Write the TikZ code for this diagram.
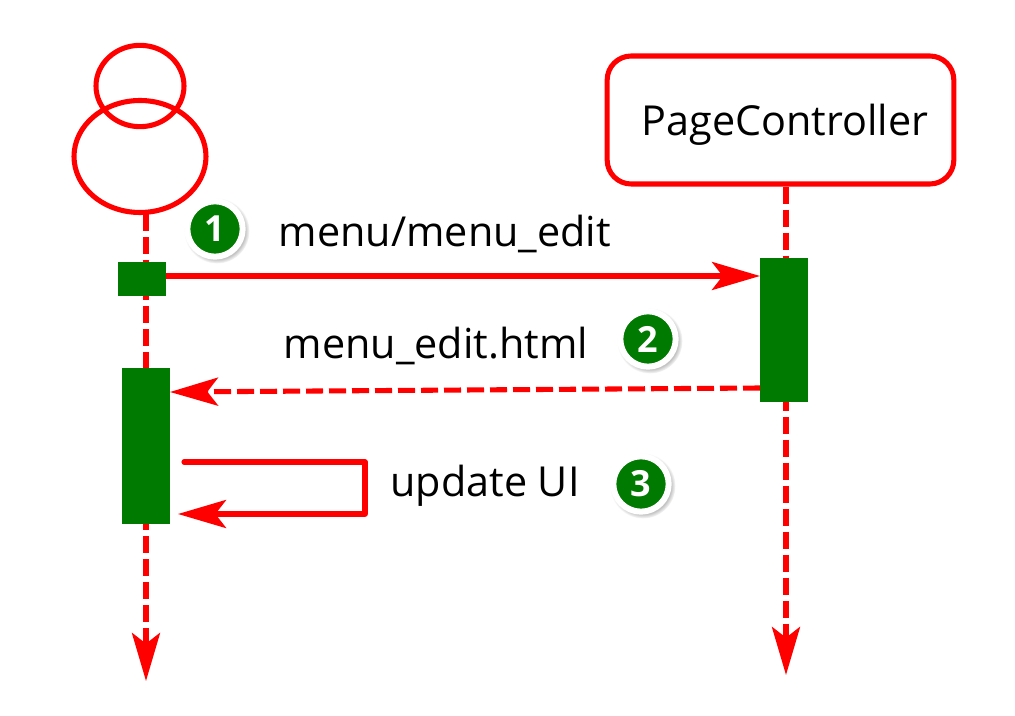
\documentclass[tikz,border=0pt]{standalone}
\usepackage{fontspec}
\setmainfont{Open Sans}
\usetikzlibrary{arrows.meta,shapes.geometric,shadows}
\definecolor{lifered}{RGB}{255,0,0}
\definecolor{actgreen}{RGB}{0,122,0}
\begin{document}
\begin{tikzpicture}[x=0.75pt, y=-0.75pt, line width=3.8pt,
  head/.style = {draw=lifered, ellipse, inner sep=0pt},
  box/.style = {draw=lifered, rectangle, rounded corners=18pt, minimum width=260pt, minimum height=96pt, inner sep=0pt},
  act/.style = {fill=actgreen, rectangle, inner sep=0pt, outer sep=0pt, minimum width=36pt},
  lifeline/.style = {draw=lifered, dash pattern=on 12.75pt off 4.5pt, -{Stealth[length=36pt, width=21pt, inset=8pt]}},
  msg/.style = {draw=lifered, line join=round, -{Stealth[length=36pt, width=21pt, inset=8pt]}},
  reply/.style = {msg, dash pattern=on 12.75pt off 4.5pt},
  badge/.style = {circle, fill=actgreen, draw=white, line width=4.5pt, minimum size=41.5pt, inner sep=0pt, text=white, font=\fontsize{27}{27}\selectfont\bfseries, circular drop shadow={shadow xshift=1.2pt, shadow yshift=-1.2pt, shadow scale=1.18, opacity=.5}},
  label/.style = {text=black, inner sep=0pt, font=\fontsize{31}{36}\selectfont}]
\useasboundingbox (0,0) rectangle (1015,716);
\node[head, minimum width=66pt, minimum height=61pt] (actorhead) at (140,86) {};
\node[head, minimum width=99pt, minimum height=84pt] (actorbody) at (140,156.5) {};
\node[box] (page) at (780.5,120) {};
\node[label] (pagetext) at (785,125) {PageController};
\coordinate (actortop) at (146,214);
\coordinate (actorend) at (146,681);
\coordinate (pageend) at (786,675);
\draw[lifeline] (actortop) -- (actorend);
\draw[lifeline] (page.south -| pageend) -- (pageend);
\node[act, minimum height=25.5pt] (start) at (142,279) {};
\node[act, minimum height=108pt] (server) at (784,330) {};
\node[act, minimum height=117pt] (update) at (146,446) {};
\coordinate (replyfrom) at (760,388);
\coordinate (replyto) at (170,392);
\coordinate (selffrom) at (184,462);
\coordinate (selfto) at (178,514);
\coordinate (selfa) at (365,462);
\coordinate (selfb) at (365,514);
\draw[msg] (start.east |- 0,276) -- (server.west |- 0,276);
\draw[reply] (replyfrom) -- (replyto);
\draw[msg, line cap=round] (selffrom) -- (selfa) -- (selfb) -- (selfto);
\node[label] (call) at (445,234) {menu/menu\_edit};
\node[label] (page2) at (436,346) {menu\_edit.html};
\node[label] (ui) at (485,486) {update UI};
\node[badge] (one) at (215,229) {1};
\node[badge] (two) at (648,339) {2};
\node[badge] (three) at (641,484) {3};
\end{tikzpicture}
\end{document}
